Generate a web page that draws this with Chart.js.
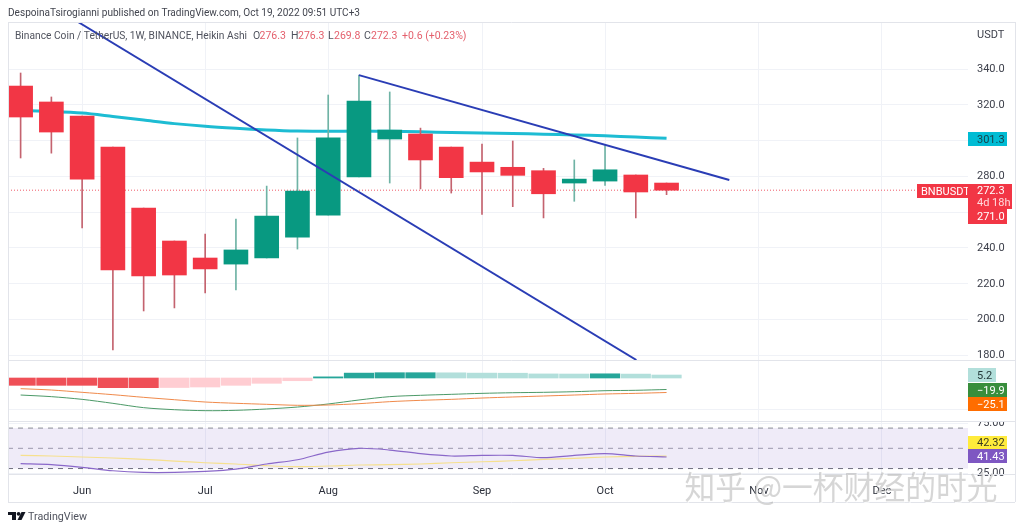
<!DOCTYPE html>
<html><head><meta charset="utf-8">
<style>html,body{margin:0;padding:0;background:#fff;overflow:hidden}canvas{display:block}</style>
<script src="https://cdn.jsdelivr.net/npm/chart.js@4"></script>
</head><body><canvas id="c" width="1024" height="531"></canvas>
<script>
// ---- data ----
const opens  = [330.5,321.6,313.7,296.4,262.3,243.9,234.4,231.0,234.4,246.1,258.4,279.7,300.9,303.7,296.4,288.0,285.1,283.2,276.3,277.4,280.8,276.3];
const closes = [313.2,304.8,278.5,227.7,224.4,224.9,228.3,238.9,257.9,271.8,301.5,322.1,305.9,289.2,279.3,282.5,280.6,270.3,278.5,283.7,271.3,272.3];
const highs  = [337.8,324.4,313.7,296.4,262.3,243.9,247.8,256.2,274.6,301.5,325.5,336.6,327.2,307.0,296.4,298.1,299.8,284.5,289.2,297.2,280.8,276.3];
const lows   = [290.3,293.0,251.2,183.0,204.8,206.5,214.9,216.5,234.4,239.4,258.4,279.7,276.3,273.0,270.7,258.8,263.1,256.8,266.1,275.0,256.8,269.8];
const ma     = [316.8,316.3,315.4,313.5,311.5,309.5,308.0,306.9,306.0,305.4,305.2,305.4,305.2,304.9,304.6,304.3,304.0,303.6,303.2,302.7,302.0,301.3];
const hist   = [-12.7,-12.7,-12.7,-16.8,-16.8,-16.5,-15.6,-12.7,-9.2,-4.7,2.0,8.5,9.2,9.2,9.0,8.5,8.3,7.1,6.9,7.3,6.8,5.2];
const macd   = [-29.5,-32.3,-37.0,-43.9,-51.4,-54.9,-56.6,-56.0,-53.7,-50.3,-45.0,-38.1,-32.3,-30.0,-28.3,-26.6,-25.5,-24.8,-23.7,-22.0,-21.3,-19.9];
const signal = [-18.5,-20.8,-24.8,-28.9,-33.5,-37.6,-41.6,-43.8,-45.6,-47.3,-46.8,-44.5,-41.0,-38.7,-37.0,-34.7,-32.9,-31.2,-29.5,-27.7,-26.6,-25.1];
const rsi    = [34.8,33.8,31.2,27.8,26.2,26.2,27.2,29.5,34.5,38.7,46.3,50.0,48.3,44.7,42.4,43.0,43.0,40.7,43.0,44.7,42.4,41.43];
const rsiMa  = [43.0,42.4,41.4,40.4,39.1,37.4,35.7,34.5,32.8,31.8,32.5,33.5,33.8,34.5,35.7,36.7,37.7,39.1,40.1,41.4,42.1,42.32];
const trendA = [[1.867,366.3],[20.02,177.4]];
const trendB = [[11.0,336.6],[23.04,278.0]];
const monthIdx = [2,6,10,15,19,24,28];
const monthLabels = ['Jun','Jul','Aug','Sep','Oct','Nov','Dec'];
const priceTicks = [180,200,220,240,260,280,300,320,340];
const priceHidden = [260,300];
const rsiTicks = [25,75];
const rsiLevels = [70,50,30];
const macdTicks = [-54];
const lastClose = 272.3;

// ---- styles ----
const UP='#089981', DOWN='#f23645', UPW='#6fb3a5', DOWNW='#c4636f';
const FONT='Roboto, "Noto Sans", sans-serif';
const idx = opens.map((_,i)=>i);
const fmt = v => v.toFixed(1);
const pts = a => a.map((y,i)=>({x:i,y}));
const pairs = a => a.map(([x,y])=>({x,y}));
const XMIN=-0.41, XMAX=30.8;

function line(data,color,w,yAxisID,order,extra){
  return Object.assign({type:'line',data,borderColor:color,backgroundColor:color,borderWidth:w,pointRadius:0,yAxisID,xAxisID:'x',order,tension:0},extra||{});
}
const datasets = [
  {type:'bar',label:'wick',data:idx.map(i=>({x:i,y:[lows[i],highs[i]]})),backgroundColor:idx.map(i=>closes[i]>=opens[i]?UPW:DOWNW),barThickness:1,grouped:false,yAxisID:'price',xAxisID:'x',order:3},
  {type:'bar',label:'body',data:idx.map(i=>({x:i,y:[opens[i],closes[i]]})),backgroundColor:idx.map(i=>closes[i]>=opens[i]?UP:DOWN),barThickness:24,grouped:false,yAxisID:'price',xAxisID:'x',order:2},
  line(pts(ma),'#1dbcd3',3,'price',4,{tension:0.3,label:'MA'}),
  line([{x:XMIN,y:lastClose},{x:XMAX,y:lastClose}],'#ef5b69',1,'price',5,{borderDash:[1,2],label:'last'}),
  line(pairs(trendA),'#2a3db5',2,'price',1,{label:'trend A'}),
  line(pairs(trendB),'#2a3db5',2,'price',1,{label:'trend B'}),
  {type:'bar',label:'hist',data:pts(hist),backgroundColor:hist.map((v,i)=>{
      const p=i?hist[i-1]:v;
      if(v>=0) return v>=p?'#26a69a':'#b2dfdb';
      return v<=p?'#ef4f57':'#ffcdd2';
    }),barThickness:29.5,grouped:false,yAxisID:'macd',xAxisID:'x',order:3},
  line(pts(macd),'#4c9a68',1,'macd',2,{tension:0.3,label:'MACD'}),
  line(pts(signal),'#f08a4b',1,'macd',1,{tension:0.3,label:'signal'}),
  line([{x:XMIN,y:rsiLevels[0]},{x:XMAX,y:rsiLevels[0]}],'#8a8d96',1,'rsi',4,{borderDash:[5,5],fill:{value:rsiLevels[2]},backgroundColor:'rgba(126,87,194,0.12)',label:'upper'}),
  line([{x:XMIN,y:rsiLevels[1]},{x:XMAX,y:rsiLevels[1]}],'rgba(120,123,134,.7)',1,'rsi',4,{borderDash:[5,5],label:'mid'}),
  line([{x:XMIN,y:rsiLevels[2]},{x:XMAX,y:rsiLevels[2]}],'#6f727c',1,'rsi',4,{borderDash:[5,5],label:'lower'}),
  line(pts(rsiMa),'#f6e08e',1.2,'rsi',2,{tension:0.3,label:'RSI MA'}),
  line(pts(rsi),'#8a68c9',1.2,'rsi',1,{tension:0.3,label:'RSI'})
];

const GRID='#f0f2f7', AXC='#3c3f4a', SEP='#e2e4ea';
function yAxis(stackWeight,min,max,ticksList,cb){
  return {type:'linear',position:'right',stack:'panes',stackWeight,min,max,
    afterBuildTicks:s=>{s.ticks=ticksList.map(value=>({value}))},
    afterFit:s=>{s.width=47},
    grid:{color:GRID,lineWidth:1,drawTicks:false},border:{display:false},
    ticks:{padding:9,color:AXC,font:{family:FONT,size:11},callback:cb,autoSkip:false,maxRotation:0}};
}

const tagPlugin={
  id:'decor',
  beforeDraw(c){
    const x=c.ctx; x.save(); x.fillStyle='#fff'; x.fillRect(0,0,c.width,c.height); x.restore();
  },
  afterDraw(c){
    const x=c.ctx, A=c.chartArea, S=c.scales;
    x.save();
    const R=A.right+47;
    // the top label of the lowest pane is cut by the pane edge
    x.fillStyle='#fff'; x.fillRect(A.right+1,S.macd.bottom-9,46,9);
    x.strokeStyle=SEP; x.lineWidth=1;
    const hl=(y,a,b)=>{x.beginPath();x.moveTo(a,Math.round(y)+.5);x.lineTo(b,Math.round(y)+.5);x.stroke()};
    hl(A.top,A.left,R); hl(S.price.bottom,A.left,R); hl(S.macd.bottom,A.left,R); hl(A.bottom,A.left,R); hl(S.x.bottom,A.left,R);
    x.beginPath();x.moveTo(A.left+.5,A.top);x.lineTo(A.left+.5,S.x.bottom);x.moveTo(R+.5,A.top);x.lineTo(R+.5,S.x.bottom);x.stroke();
    x.textBaseline='middle'; x.textAlign='left';
    x.font='10.5px '+FONT; x.fillStyle='#42454f';
    x.fillText('DespoinaTsirogianni published on TradingView.com, Oct 19, 2022 09:51 UTC+3',8,13.5,352);
    x.font='10.5px '+FONT; x.fillStyle='#50535e';
    x.fillText('Binance Coin / TetherUS, 1W, BINANCE, Heikin Ashi',15,36,232);
    const RED='#e4606d', DK='#50535e', n=i=>fmt([opens,highs,lows,closes][i][21]);
    [[253,'O',DK],[259.5,'276.3',RED],[291,'H',DK],[298,n(1),RED],[328,'L',DK],[334,n(2),RED],[364,'C',DK],[371,n(3),RED],[402,'+0.6 (+0.23%)',RED]]
      .forEach(([px,t,col])=>{x.fillStyle=col;x.fillText(t,px,36)});
    x.fillStyle=AXC; x.font='11px '+FONT; x.fillText('USDT',977,35);
    const tag=(l,t,r,b,bg,fg,txt,tx)=>{x.fillStyle=bg;x.fillRect(l,t,r-l,b-t);x.fillStyle=fg;x.font='11px '+FONT;x.fillText(txt,tx===undefined?l+9:tx,(t+b)/2+1)};
    const L=968;
    tag(L,132,1007,146,'#00bcd4','#17424c',fmt(ma[21]));
    tag(917,184,L,198,DOWN,'#fff','BNBUSDT',921);
    x.fillStyle=DOWN;x.fillRect(L,184,44,25);
    x.fillStyle='#fff';x.fillText(fmt(lastClose),977,191.5);
    x.fillStyle='#ffd9dd';x.fillText('4d 18h',977,203.5);
    tag(L,209,1007,224,DOWN,'#fff','271.0');
    tag(L,368,996,382,'#b2dfdb','#243a3a',fmt(hist[21]));
    tag(L,383,1007,397,'#388e3c','#fff','\u2212'+fmt(-macd[21]));
    tag(L,397,1007,411,'#ff6d00','#fff','\u2212'+fmt(-signal[21]));
    tag(L,436,1007,449,'#ffeb3b','#3a3a20',rsiMa[21].toFixed(2));
    tag(L,449,1007,463,'#7e57c2','#fff',rsi[21].toFixed(2));
    x.fillStyle='#131722';
    x.fillRect(8,512,8,3); x.fillRect(12,512,4,8);
    x.beginPath();x.arc(18.6,513.8,1.9,0,7);x.fill();
    x.beginPath();x.moveTo(21.5,512);x.lineTo(25.5,512);x.lineTo(21.5,520);x.lineTo(17.5,520);x.closePath();x.fill();
    x.fillStyle='#50535e'; x.font='11.5px '+FONT; x.fillText('TradingView',28,517,59);
    x.font='32px "Noto Sans CJK SC"';
    const wm='\u77e5\u4e4e @\u4e00\u676f\u8d22\u7ecf\u7684\u65f6\u5149';
    x.fillStyle='rgba(255,255,255,.8)'; x.fillText(wm,685.5,487.5,313);
    x.fillStyle='rgba(165,165,165,.45)'; x.fillText(wm,684.5,486.5,313);
    x.restore();
  }
};

new Chart(document.getElementById('c'),{
  data:{datasets},
  plugins:[tagPlugin],
  options:{
    responsive:false,animation:false,devicePixelRatio:1,
    layout:{padding:{left:8,top:22,right:9,bottom:29}},
    plugins:{legend:{display:false},tooltip:{enabled:false}},
    events:[],
    scales:{
      x:{type:'linear',min:XMIN,max:XMAX,offset:false,
        afterBuildTicks:s=>{s.ticks=monthIdx.map(value=>({value}))},
        afterFit:s=>{s.height=28},
        grid:{color:GRID,drawTicks:false,offset:false},border:{display:false},
        ticks:{padding:11,color:'#2a2e39',autoSkip:false,maxRotation:0,font:{family:FONT,size:11},
          callback:v=>monthLabels[monthIdx.indexOf(v)]||''}},
      price:yAxis(338,177.4,366.3,priceTicks,v=>priceHidden.includes(v)?'':fmt(v)),
      macd:yAxis(61,-74.5,31.2,macdTicks,()=>''),
      rsi:yAxis(53,24.6,77,rsiTicks,v=>v.toFixed(2))
    }
  }
});
</script></body></html>
